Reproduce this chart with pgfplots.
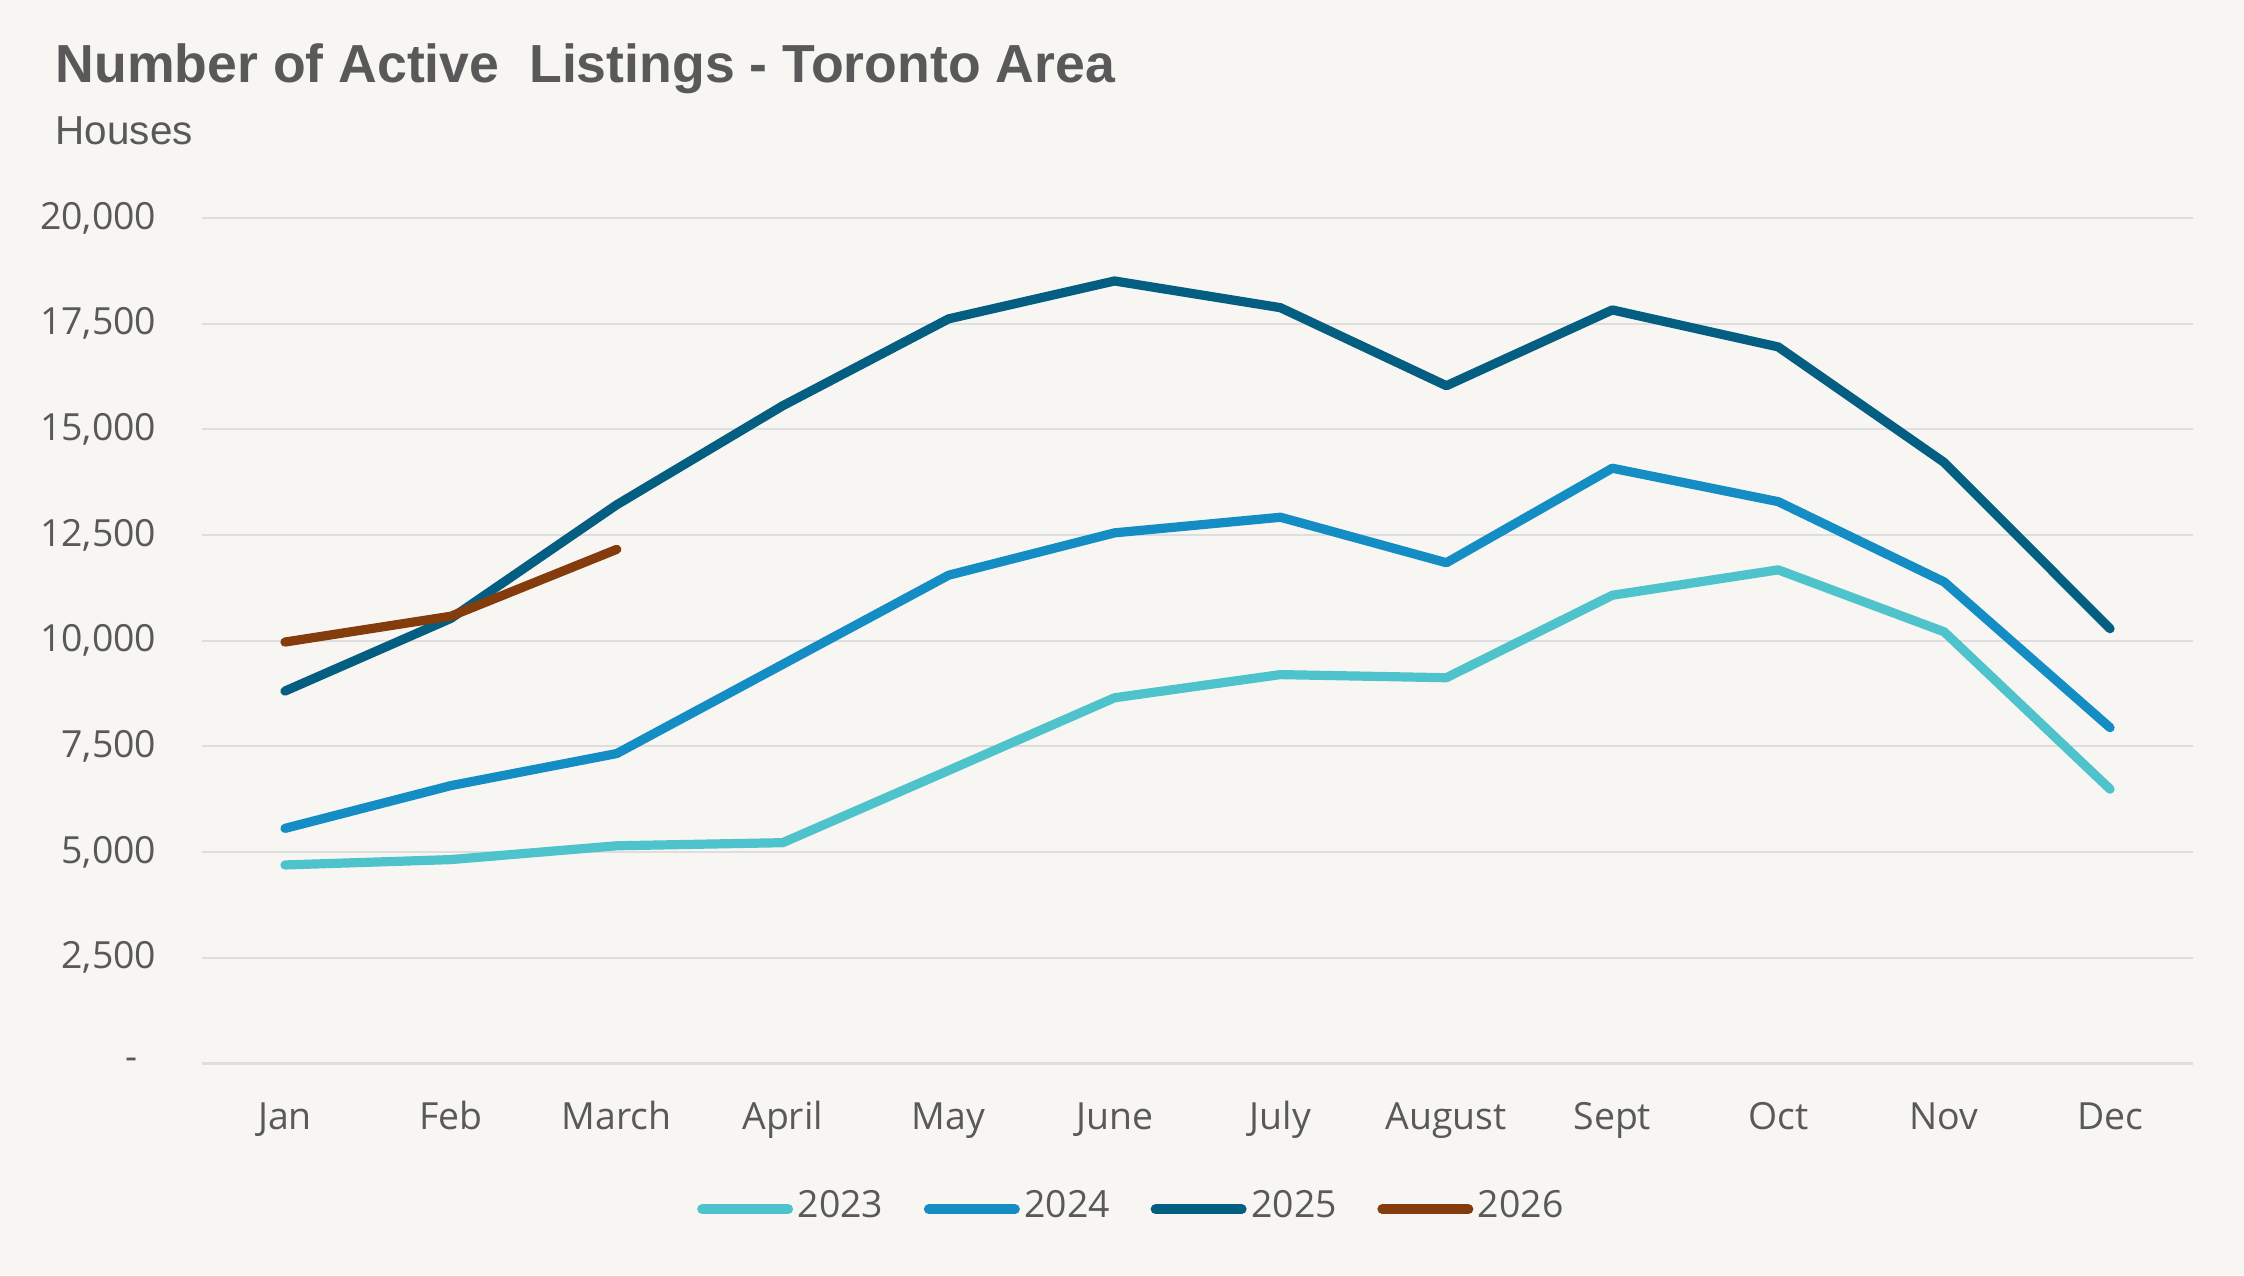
\documentclass[border=0pt]{standalone}
\usepackage{pgfplots}
\pgfplotsset{compat=1.18}
\usepackage{fontspec}
\setmainfont{Open Sans}
\newfontfamily\titlefont{Liberation Sans}
\definecolor{bg}{HTML}{F7F6F2}
\definecolor{txt}{HTML}{595959}
\definecolor{grd}{HTML}{DEDEDE}
\definecolor{cA}{HTML}{4FC3CC}
\definecolor{cB}{HTML}{148CC4}
\definecolor{cC}{HTML}{045E82}
\definecolor{cD}{HTML}{843C0C}
\begin{document}
\begin{tikzpicture}
\fill[bg] (-50.5pt,-52.9pt) rectangle (510.5pt,265.85pt);
\useasboundingbox (-50.5pt,-52.9pt) rectangle (510.5pt,265.85pt);
\node[anchor=base west, inner sep=0pt, text=txt, font=\titlefont\fontsize{13.4pt}{16pt}\selectfont\bfseries] at (-36.75pt,245.1pt) {Number of Active\ \ Listings - Toronto Area};
\node[anchor=base west, inner sep=0pt, text=txt, font=\titlefont\fontsize{10.1pt}{12pt}\selectfont] at (-36.75pt,229.6pt) {Houses};
\begin{axis}[
  at={(0pt,0pt)}, anchor=south west,
  scale only axis, width=497.75pt, height=211.375pt,
  xmin=-0.5, xmax=11.5, ymin=0, ymax=20000,
  axis x line*=bottom, axis y line*=left,
  x axis line style={draw=grd, line width=0.75pt},
  y axis line style={draw=none},
  major tick length=0pt,
  scaled y ticks=false,
  xtick={0,1,2,3,4,5,6,7,8,9,10,11},
  xticklabels={Jan,Feb,March,April,May,June,July,August,Sept,Oct,Nov,Dec},
  ytick={0,2500,5000,7500,10000,12500,15000,17500,20000},
  yticklabels={{-\rule{4.75pt}{0pt}},{2,500},{5,000},{7,500},{10,000},{12,500},{15,000},{17,500},{20,000}},
  ymajorgrids, grid style={draw=grd, line width=0.5pt},
  yticklabel style={anchor=east, inner sep=0pt, xshift=-11.25pt, text=txt, font=\fontsize{9.35pt}{11pt}\selectfont},
  xticklabel style={anchor=base, inner sep=0pt, yshift=-16.5pt, text=txt, font=\fontsize{9.35pt}{11pt}\selectfont},
  legend columns=4,
  legend style={at={(rel axis cs:0.4651,-0.1699)}, anchor=center, draw=none, fill=none,
    font=\fontsize{9.35pt}{11pt}\selectfont, text=txt,
    nodes={inner sep=0pt},
    /tikz/every odd column/.append style={column sep=0pt},
    /tikz/every even column/.append style={column sep=9pt}},
  legend image code/.code={\path (0pt,-3pt) (24pt,3pt); \draw[#1, line width=2.5pt, line cap=round] (1.25pt,-0.55pt) -- (22.75pt,-0.55pt);},
  every axis plot/.append style={line width=2.3pt, line cap=round, line join=round},
]
\addplot[cA] coordinates {(0,4694) (1,4821) (2,5148) (3,5221) (4,6930) (5,8649) (6,9197) (7,9123) (8,11074) (9,11675) (10,10209) (11,6487)};
\addlegendentry{2023}
\addplot[cB] coordinates {(0,5559) (1,6571) (2,7330) (3,9439) (4,11548) (5,12550) (6,12919) (7,11843) (8,14079) (9,13288) (10,11390) (11,7942)};
\addlegendentry{2024}
\addplot[cC] coordinates {(0,8807) (1,10526) (2,13215) (3,15556) (4,17612) (5,18508) (6,17876) (7,16030) (8,17823) (9,16948) (10,14216) (11,10283)};
\addlegendentry{2025}
\addplot[cD] coordinates {(0,9967) (1,10578) (2,12160)};
\addlegendentry{2026}
\end{axis}
\end{tikzpicture}
\end{document}
